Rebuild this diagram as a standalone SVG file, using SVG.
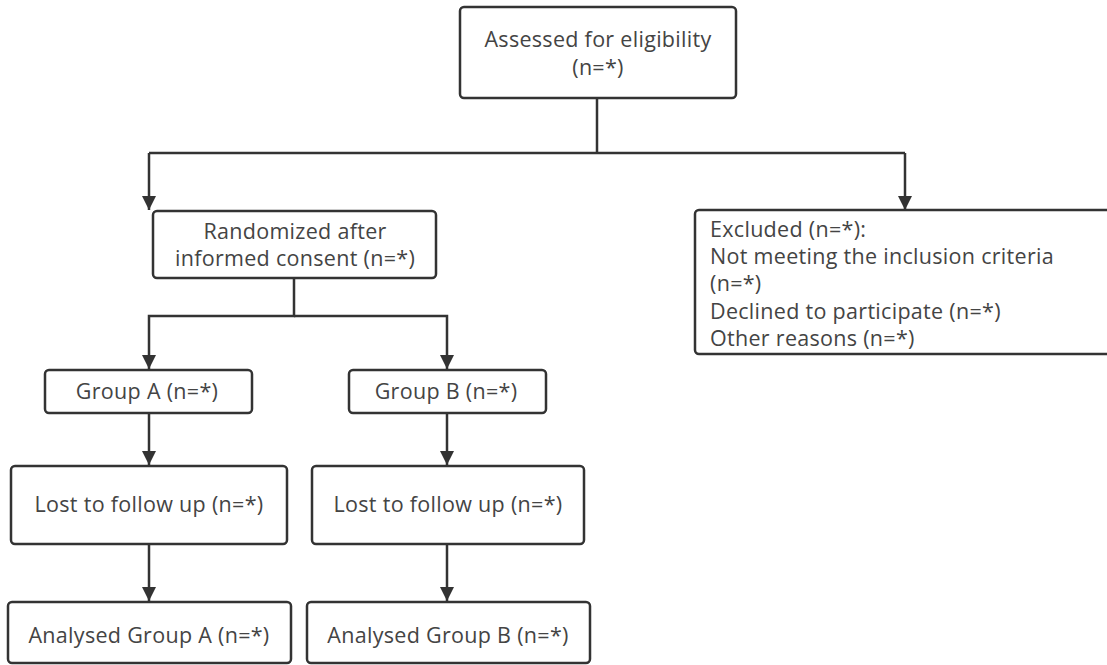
<svg xmlns="http://www.w3.org/2000/svg" width="1107" height="665" viewBox="0 0 1107 665">
<defs>
<style>
.box{fill:#fff;stroke:#333;stroke-width:2.5}
.t{font-family:"Open Sans","Noto Sans",sans-serif;font-size:21.5px;fill:#444;letter-spacing:0.3px}
.c{text-anchor:middle}
.ln{fill:none;stroke:#333;stroke-width:2.5}
</style>
<marker id="ah" viewBox="0 0 14 17" refX="14" refY="8.5" markerWidth="14" markerHeight="17" markerUnits="userSpaceOnUse" orient="auto">
<path d="M0,1.5 L14,8.5 L0,15.5 Z" fill="#333"/>
</marker>
</defs>
<rect width="1107" height="665" fill="#fff"/>
<g id="connectors">
<path class="ln" d="M597,98 V153"/>
<path class="ln" d="M149,153 H905"/>
<path class="ln" d="M149,153 V210" marker-end="url(#ah)"/>
<path class="ln" d="M905,153 V210" marker-end="url(#ah)"/>
<path class="ln" d="M294,278 V316 H149 V369" marker-end="url(#ah)"/>
<path class="ln" d="M294,316 H447 V369" marker-end="url(#ah)"/>
<path class="ln" d="M149,413 V465" marker-end="url(#ah)"/>
<path class="ln" d="M447,413 V465" marker-end="url(#ah)"/>
<path class="ln" d="M149,544 V601" marker-end="url(#ah)"/>
<path class="ln" d="M447,544 V601" marker-end="url(#ah)"/>
</g>
<g id="assessed">
<rect class="box" x="460" y="7" width="276" height="91" rx="4"/>
<text class="t c" x="598" y="47">Assessed for eligibility</text>
<text class="t c" x="598" y="75">(n=*)</text>
</g>
<g id="randomized">
<rect class="box" x="153" y="211" width="283" height="67" rx="4"/>
<text class="t c" x="295" y="239">Randomized after</text>
<text class="t c" x="295" y="266">informed consent (n=*)</text>
</g>
<g id="excluded">
<rect class="box" x="695" y="210" width="420" height="144" rx="4"/>
<text class="t" x="710" y="237">Excluded (n=*):</text>
<text class="t" x="710" y="264">Not meeting the inclusion criteria</text>
<text class="t" x="710" y="291">(n=*)</text>
<text class="t" x="710" y="319">Declined to participate (n=*)</text>
<text class="t" x="710" y="346">Other reasons (n=*)</text>
</g>
<g id="groupA">
<rect class="box" x="45" y="370" width="207" height="43" rx="4"/>
<text class="t c" x="147" y="399">Group A (n=*)</text>
</g>
<g id="groupB">
<rect class="box" x="349" y="370" width="197" height="43" rx="4"/>
<text class="t c" x="446" y="399">Group B (n=*)</text>
</g>
<g id="lostA">
<rect class="box" x="11" y="466" width="276" height="78" rx="4"/>
<text class="t c" x="149" y="512">Lost to follow up (n=*)</text>
</g>
<g id="lostB">
<rect class="box" x="312" y="466" width="272" height="78" rx="4"/>
<text class="t c" x="448" y="512">Lost to follow up (n=*)</text>
</g>
<g id="analysedA">
<rect class="box" x="8" y="602" width="283" height="61" rx="4"/>
<text class="t c" x="149" y="643">Analysed Group A (n=*)</text>
</g>
<g id="analysedB">
<rect class="box" x="307" y="602" width="283" height="61" rx="4"/>
<text class="t c" x="448" y="643">Analysed Group B (n=*)</text>
</g>
</svg>
